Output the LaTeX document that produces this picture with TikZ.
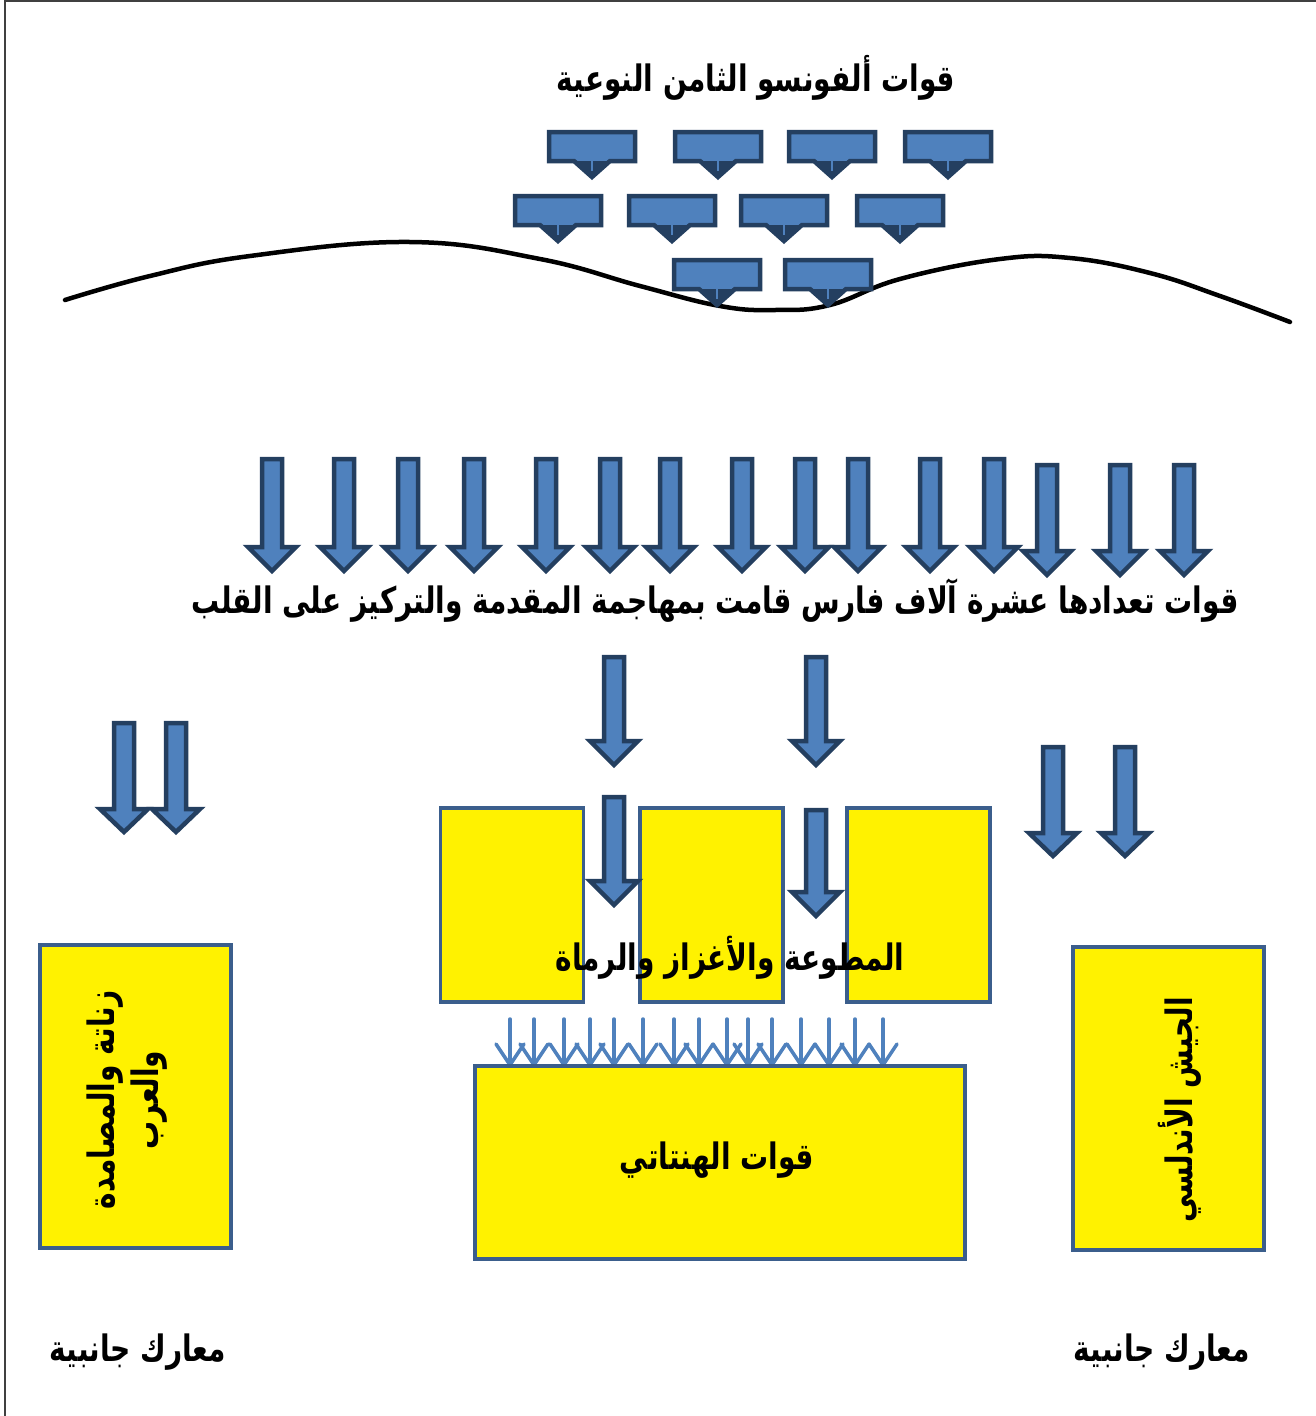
\documentclass[tikz,border=0pt]{standalone}
\usepackage{fontspec}
\usepackage{graphicx}
\TeXXeTstate=1
\newfontfamily\arabicfont[Script=Arabic]{DejaVu Sans}
\definecolor{arrowfill}{HTML}{4F81BD}
\definecolor{arrowedge}{HTML}{243F60}
\definecolor{boxedge}{HTML}{3B5E8C}
\definecolor{frameline}{HTML}{404040}
\tikzset{
  blockarrow/.style={fill=arrowfill,draw=arrowedge,line width=4.5pt,line join=miter},
  calloutbox/.style={fill=arrowfill,draw=arrowedge,line width=4.5pt,line join=miter},
  calloutstem/.style={draw=arrowfill,line width=1.5pt},
  thinarrow/.style={draw=arrowfill,line width=3.5pt,line cap=round,line join=round},
  unitbox/.style={fill=yellow,draw=boxedge,line width=3.5pt},
  label/.style={font=\arabicfont\bfseries\fontsize{28}{32}\selectfont,inner sep=0pt},
}
% right-to-left Arabic text, stretched a little in height
\newcommand{\artext}[1]{\scalebox{1}[1.3]{\beginR #1\endR}}
% block arrow pointing down: centre x, top y, head base y, tip y
\newcommand{\downarrowshape}[4]{%
  \draw[blockarrow] (#1-10,#2) -- (#1+10,#2) -- (#1+10,#3) -- (#1+24,#3)
    -- (#1,#4) -- (#1-24,#3) -- (#1-10,#3) -- cycle;}
% down-pointing callout: left x, top y
\newcommand{\callout}[2]{%
  \draw[calloutbox] (#1+2,#2+2) -- (#1+88,#2+2) -- (#1+88,#2+31) -- (#1+63,#2+31)
    -- (#1+45,#2+47) -- (#1+27,#2+31) -- (#1+2,#2+31) -- cycle;
  \fill[arrowedge] (#1+63,#2+31) -- (#1+45,#2+47) -- (#1+27,#2+31) -- cycle;
  \draw[calloutstem] (#1+45,#2+29) -- (#1+45,#2+41);}
% thin line arrow with open head: centre x
\newcommand{\thinarrowat}[1]{%
  \draw[thinarrow] (#1,1019) -- (#1,1065);
  \draw[thinarrow] (#1-14,1044) -- (#1,1065) -- (#1+14,1044);}
\begin{document}
\begin{tikzpicture}[x=1pt,y=-1pt]
\useasboundingbox (0,0) rectangle (1316,1416);
\fill[white] (0,0) rectangle (1316,1416);
% frame lines along the top and the left side
\draw[frameline,line width=2pt] (5,1416) -- (5,1) -- (1316,1);

% title
\node[label] (title) at (756,78) {\artext{قوات ألفونسو الثامن النوعية}};

% callout formation
\callout{547}{130}\callout{673}{130}\callout{787}{130}\callout{903}{130}
\callout{513}{194}\callout{627}{194}\callout{739}{194}\callout{855}{194}

% terrain line
\draw[black,line width=4.5pt,line cap=round]
  plot[smooth,tension=0.7] coordinates {(65,300) (150,276) (250,256) (410,242)
  (540,259) (640,286) (720,306) (775,310) (830,305) (900,279) (1000,259)
  (1070,258) (1150,273) (1220,296) (1290,322)};

\callout{672}{258}\callout{783}{258}

% row of charging arrows
\foreach \cx in {272,344,408,474,546,610,670,742,805,858,930,994}
  {\downarrowshape{\cx}{459}{547}{571}}
\foreach \cx in {1047,1120,1184}
  {\downarrowshape{\cx}{465}{551}{575}}

\node[label] (charge) at (715,601)
  {\artext{قوات تعدادها عشرة آلاف فارس قامت بمهاجمة المقدمة والتركيز على القلب}};

% arrows towards the vanguard
\downarrowshape{614}{657}{741}{765}
\downarrowshape{816}{657}{741}{765}

% flank arrows
\downarrowshape{124}{723}{809}{832}
\downarrowshape{176}{723}{809}{832}
\downarrowshape{1053}{747}{833}{856}
\downarrowshape{1125}{747}{833}{856}

% vanguard units
\node[unitbox,minimum width=143pt,minimum height=194pt,inner sep=0pt] (v1) at (512,905) {};
\node[unitbox,minimum width=143pt,minimum height=194pt,inner sep=0pt] (v2) at (711.5,905) {};
\node[unitbox,minimum width=143pt,minimum height=194pt,inner sep=0pt] (v3) at (918.5,905) {};

\downarrowshape{614}{797}{881}{905}
\downarrowshape{816}{810}{892}{916}

\node[label] (vanguard) at (730,958) {\artext{المطوعة والأغزاز والرماة}};

% volley of small arrows
\foreach \cx in {510,534,564,590,614,643,674,699,727,748,772,801,829,855,883}
  {\thinarrowat{\cx}}

% centre
\node[unitbox,minimum width=490pt,minimum height=193pt,inner sep=0pt] (centre) at (720,1162.5) {};
\node[label] (centretext) at (717,1160) {\artext{قوات الهنتاتي}};

% wings
\node[unitbox,minimum width=191pt,minimum height=303pt,inner sep=0pt] (leftwing) at (135.5,1096.5) {};
\node[label,rotate=90,align=center] (lefttext) at (127,1100)
  {\artext{زناتة والمصامدة}\\[6pt]\artext{والعرب}};
\node[unitbox,minimum width=191pt,minimum height=303pt,inner sep=0pt] (rightwing) at (1168.5,1098.5) {};
\node[label,rotate=90] (righttext) at (1180,1110) {\artext{الجيش الأندلسي}};

% side battles
\node[label] (sideleft) at (138,1352) {\artext{معارك جانبية}};
\node[label] (sideright) at (1162,1352) {\artext{معارك جانبية}};
\end{tikzpicture}
\end{document}
